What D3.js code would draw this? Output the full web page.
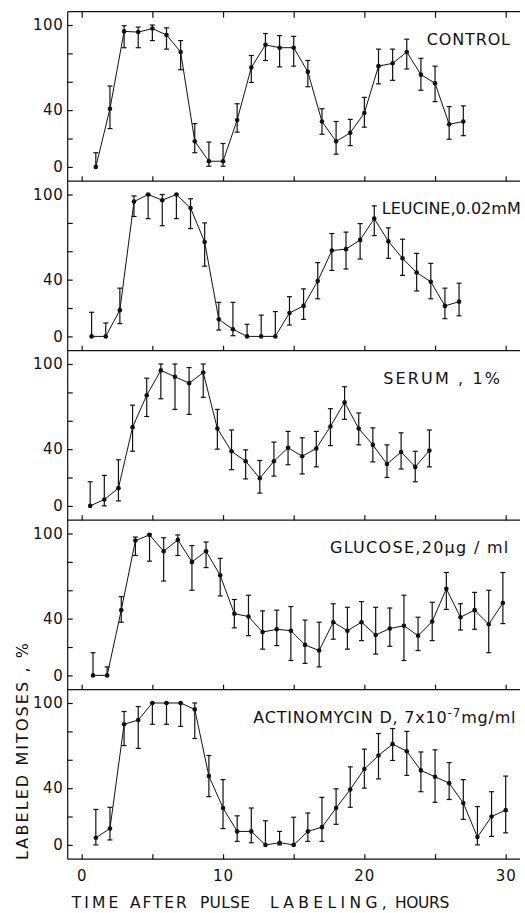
<!DOCTYPE html>
<html>
<head>
<meta charset="utf-8">
<script src="https://cdn.jsdelivr.net/npm/d3@7"></script>
<style>
  body { margin: 0; background: #fff; }
  text { font-family: "DejaVu Sans", sans-serif; fill: #111; }
</style>
</head>
<body>
<div id="chart"></div>
<script>
// ---- data (% labeled mitoses vs hours) ----
const controlHours = [1,2,3,4,5,6,7,8,9,10,11,12,13,14,15,16,17,18,19,20,21,22,23,24,25,26,27];
const controlVal = [0,41,95.5,95,97.5,93,81,18,4,4,33,70,86,84,84,67,32,18,24,38,71,73,81,65,59,30,32];
const controlHi  = [10,57,99.5,98.5,100,98,89,30.5,17.5,16.5,44.5,78.5,94,92.5,92,75,41,32,33.5,49,83,83,90,76.5,71,42.5,43];
const controlLo  = [0,27,84,84,89,83,68.5,10,0.5,0.5,24.5,59.5,75,70.5,71,56.5,23,9,15,28,58.5,61,69,54,46,19.5,22];

const leucineHours = [0.7,1.7,2.7,3.7,4.7,5.7,6.7,7.7,8.7,9.7,10.7,11.7,12.7,13.7,14.7,15.7,16.7,17.7,18.7,19.7,20.7,21.7,22.7,23.7,24.7,25.7,26.7];
const leucineVal = [0,0,18.5,95,100,96,100,90.5,66.5,12,5,0,0,0,16.5,21.5,39,60.5,61.5,68,83,67,55,45,38.5,21.5,24.5];
const leucineHi  = [17,9.5,34,99,100,100,100,97,80,24,24,8.5,15,17.5,28,33.5,52,72.5,73.5,79.5,92,76.5,68.5,58.5,51.5,34,37.5];
const leucineLo  = [0,0,9,84.5,83,78,83,76,49.5,4.5,0.5,0,0,0,8,12,26.5,46.5,47.5,54.5,71,55,43,32,26.5,12.5,14.5];

const serumHours = [0.6,1.6,2.6,3.6,4.6,5.6,6.6,7.6,8.6,9.6,10.6,11.6,12.6,13.6,14.6,15.6,16.6,17.6,18.6,19.6,20.6,21.6,22.6,23.6,24.6];
const serumVal = [0,4.5,12.5,55.5,78,95.5,91,86.5,94,54.5,38.5,31.5,19.5,31.5,41,35,40.5,56,73,54.5,43,29.5,38,27.5,39];
const serumHi  = [17,21.5,32.5,71,90,100,100,97.5,100,68,53.5,39.5,32,45,52.5,48,52.5,68.5,84,65.5,55,43,51.5,38.5,53.5];
const serumLo  = [0,0,3.5,38.5,63,75.5,68,64.5,76.5,40,25.5,19,9,21,29,22.5,27.5,42.5,61,43,31,20,26,17,27.5];

const glucoseHours = [0.8,1.8,2.8,3.8,4.8,5.8,6.8,7.8,8.8,9.8,10.8,11.8,12.8,13.8,14.8,15.8,16.8,17.8,18.8,19.8,20.8,21.8,22.8,23.8,24.8,25.8,26.8,27.8,28.8,29.8];
const glucoseVal = [0,0,46,95,99,87.5,95.5,80,87.5,70.5,43.5,41.5,30.5,32.5,31.5,21.5,17.5,37.5,31.5,37.5,28.5,33,35,28,38,61,41,46,36,51];
const glucoseHi  = [16,6,55.5,97.5,99.5,97,99,91.5,94,82.5,53.5,56.5,45.5,46,48.5,39,37.5,50.5,48,52,48,47.5,56.5,41,51.5,72.5,50.5,58.5,60,72.5];
const glucoseLo  = [0,0,37.5,84.5,80.5,66.5,84.5,60,76,56,33.5,28,18.5,21,10.5,8.5,6,25.5,18.5,24.5,15,20.5,10.5,17.5,24.5,46.5,32,32.5,16,36.5];

const actinoHours = [1,2,3,4,5,6,7,8,9,10,11,12,13,14,15,16,17,18,19,20,21,22,23,24,25,26,27,28,29,30];
const actinoVal = [5,11.5,85,88,100,100,100,95.5,48.5,26,9.5,9.5,0,1.5,0,9.5,12.5,26,39,53.5,63,71,66,52.5,48,43.5,29.5,5.5,20,24.5];
const actinoHi  = [25,26.5,94,97.5,100,100,100,100,63,46,20.5,26,17,9.5,19.5,22.5,33.5,39.5,55,67.5,78.5,82,80,65.5,67,58,46,27,37.5,48.5];
const actinoLo  = [0,3.5,70,68,85,85,83.5,75,34,11.5,2.5,1.5,0,0,0,2.5,2.5,14.5,26.5,40,46.5,59.5,49,37.5,30,32,18,0,6,8.5];

const xTicks = [0,5,10,15,20,25,30];
const xTickLabels = [0,10,20,30];
const yTicks = [0,20,40,60,80,100];
const yTickLabels = [0,40,100];

const panels = [
  { hours: controlHours, val: controlVal, hi: controlHi, lo: controlLo, title: "CONTROL", tx: 426.7, tw: 83.3 },
  { hours: leucineHours, val: leucineVal, hi: leucineHi, lo: leucineLo, title: "LEUCINE,0.02mM", tx: 381.7, tw: 139 },
  { hours: serumHours, val: serumVal, hi: serumHi, lo: serumLo, title: "SERUM , 1%", tx: 383.3, tw: 116.7 },
  { hours: glucoseHours, val: glucoseVal, hi: glucoseHi, lo: glucoseLo, title: "GLUCOSE,20µg / ml", tx: 330, tw: 178.3 },
  { hours: actinoHours, val: actinoVal, hi: actinoHi, lo: actinoLo, title: null, tx: 253.3, tw: 261.7 }
];

// ---- layout ----
const width = 525, height = 913;
const left = 67.7, right = 520, top0 = 11.7, panelH = 169.5;
const ink = "#111";

const svg = d3.select("#chart").append("svg")
  .attr("width", width)
  .attr("height", height);

const x = d3.scaleLinear().domain([0, 30]).range([81.7, 505.7]);

// left frame line through all panels, top border of first panel
svg.append("line")
  .attr("x1", left).attr("x2", left)
  .attr("y1", top0).attr("y2", top0 + panels.length * panelH)
  .attr("stroke", ink).attr("stroke-width", 1.2);

svg.append("line")
  .attr("x1", left).attr("x2", right)
  .attr("y1", top0).attr("y2", top0)
  .attr("stroke", ink).attr("stroke-width", 1.2);

svg.append("g")
  .attr("transform", "translate(0," + top0 + ")")
  .call(d3.axisTop(x).tickValues(xTicks).tickSizeInner(-6).tickSizeOuter(0).tickFormat(""))
  .call(a => a.select(".domain").remove())
  .call(a => a.selectAll("line").attr("stroke", ink).attr("stroke-width", 1.2));

panels.forEach(function (p, i) {
  const top = top0 + i * panelH;
  const bottom = top + panelH;
  const last = i === panels.length - 1;
  const y = d3.scaleLinear().domain([0, 100]).range([bottom - 14.3, top + 13.3]);

  const g = svg.append("g");

  // y axis (ticks inward)
  g.append("g")
    .attr("transform", "translate(" + left + ",0)")
    .call(d3.axisLeft(y).tickValues(yTicks).tickSizeInner(-5).tickSizeOuter(0).tickPadding(4.5)
      .tickFormat(d => yTickLabels.includes(d) ? d : ""))
    .call(a => a.select(".domain").remove())
    .call(a => a.selectAll("line").attr("stroke", ink).attr("stroke-width", 1.2))
    .call(a => a.selectAll("text").attr("font-size", 15).attr("letter-spacing", 0.5));

  // bottom frame line + x ticks (inward)
  g.append("line")
    .attr("x1", left).attr("x2", right)
    .attr("y1", bottom).attr("y2", bottom)
    .attr("stroke", ink).attr("stroke-width", 1.2);

  g.append("g")
    .attr("transform", "translate(0," + bottom + ")")
    .call(d3.axisBottom(x).tickValues(xTicks).tickSizeInner(-5).tickSizeOuter(0).tickPadding(11)
      .tickFormat(d => (last && xTickLabels.includes(d)) ? d : ""))
    .call(a => a.select(".domain").remove())
    .call(a => a.selectAll("line").attr("stroke", ink).attr("stroke-width", 1.2))
    .call(a => a.selectAll("text").attr("font-size", 15).attr("letter-spacing", 1));

  const rows = p.hours.map((h, k) => ({ h: h, v: p.val[k], hi: p.hi[k], lo: p.lo[k] }));

  // error bars
  const eb = g.append("g").attr("stroke", ink).attr("stroke-width", 1.2);
  rows.forEach(function (d) {
    const cx = x(d.h);
    eb.append("line").attr("x1", cx).attr("x2", cx).attr("y1", y(d.lo)).attr("y2", y(d.hi));
    eb.append("line").attr("x1", cx - 2.5).attr("x2", cx + 2.5).attr("y1", y(d.hi)).attr("y2", y(d.hi));
    if (d.lo < d.v) {
      eb.append("line").attr("x1", cx - 2.5).attr("x2", cx + 2.5).attr("y1", y(d.lo)).attr("y2", y(d.lo));
    }
  });

  // connecting line
  g.append("path")
    .datum(rows)
    .attr("fill", "none")
    .attr("stroke", ink)
    .attr("stroke-width", 1)
    .attr("d", d3.line().x(d => x(d.h)).y(d => y(d.v)));

  // points
  g.selectAll("circle.pt")
    .data(rows)
    .enter().append("circle")
    .attr("class", "pt")
    .attr("cx", d => x(d.h))
    .attr("cy", d => y(d.v))
    .attr("r", 2.3)
    .attr("fill", ink);

  // panel title
  const t = g.append("text")
    .attr("x", p.tx)
    .attr("y", top + 33)
    .attr("font-size", 16);
  if (p.title) {
    t.text(p.title).attr("textLength", p.tw).attr("lengthAdjust", "spacing");
  } else {
    t.attr("letter-spacing", 0.8);
    t.append("tspan").text("ACTINOMYCIN  D, 7x10");
    t.append("tspan").attr("dy", -6).attr("font-size", 12).text("-7");
    t.append("tspan").attr("dy", 6).text("mg/ml");
  }
});

// axis titles
const yTitleX = 28.3, yTitleY = 751.5;
svg.append("text")
  .attr("transform", "translate(" + yTitleX + "," + yTitleY + ") rotate(-90)")
  .attr("text-anchor", "middle")
  .attr("font-size", 16)
  .attr("textLength", 217)
  .attr("lengthAdjust", "spacing")
  .text("LABELED  MITOSES ,  %");

const xWords = ["TIME", "AFTER", "PULSE", "LABELING,", "HOURS"];
const xWordPos = [[71.7, 46.6], [130, 56.7], [200, 50], [270, 116.7], [395, 54.3]];
xWords.forEach((w, k) => {
  svg.append("text")
    .attr("x", xWordPos[k][0])
    .attr("y", 908)
    .attr("font-size", 15.5)
    .attr("textLength", xWordPos[k][1])
    .attr("lengthAdjust", "spacing")
    .text(w);
});
</script>
</body>
</html>
